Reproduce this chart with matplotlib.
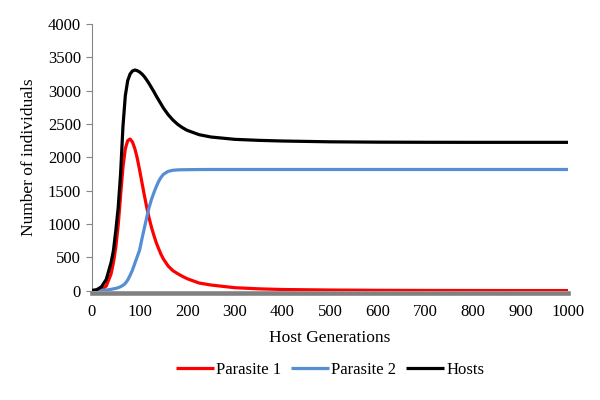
import matplotlib
matplotlib.use("Agg")
import matplotlib.pyplot as plt

# values
generations = [0, 10, 20, 30, 40, 45, 50, 55, 60, 65, 70, 75, 80, 85, 90, 95,
               100, 105, 110, 115, 120, 125, 130, 135, 140, 145, 150, 160,
               170, 180, 190, 200, 225, 250, 300, 350, 400, 500, 600, 700,
               800, 900, 1000]
parasite1 = [0, 3, 20, 70, 250, 420, 650, 980, 1420, 1850, 2130, 2250, 2275,
             2230, 2130, 1990, 1810, 1620, 1430, 1250, 1090, 950, 830, 720,
             630, 545, 475, 370, 300, 255, 215, 180, 115, 85, 45, 28, 18, 10,
             6, 4, 3, 2, 2]
parasite2 = [0, 2, 5, 10, 20, 28, 35, 45, 60, 80, 110, 160, 230, 310, 410,
             510, 610, 780, 940, 1100, 1250, 1370, 1470, 1560, 1640, 1700,
             1745, 1790, 1806, 1812, 1814, 1815, 1817, 1818, 1818, 1818, 1818,
             1818, 1818, 1818, 1818, 1818, 1818]
hosts = [5, 15, 60, 170, 420, 600, 900, 1245, 1745, 2460, 2925, 3150, 3250,
         3295, 3310, 3300, 3280, 3250, 3210, 3160, 3105, 3045, 2985, 2920,
         2860, 2800, 2740, 2640, 2560, 2495, 2445, 2405, 2340, 2305, 2270,
         2255, 2245, 2233, 2228, 2226, 2225, 2225, 2225]

plt.rcParams["font.family"] = ["Liberation Serif", "DejaVu Serif"]

fig = plt.figure(figsize=(6, 4), dpi=100)
ax = fig.add_axes([92 / 600, 1 - 290.7 / 400, 476 / 600, 266.7 / 400])

lw = 2.3
ax.plot(generations, parasite1, color="#ff0000", lw=lw, label="Parasite 1",
        zorder=3, solid_capstyle="butt")
ax.plot(generations, parasite2, color="#558ed5", lw=lw, label="Parasite 2",
        zorder=3, solid_capstyle="butt")
ax.plot(generations, hosts, color="#000000", lw=lw, label="Hosts",
        zorder=4, solid_capstyle="butt")

ax.set_xlim(0, 1000)
ax.set_ylim(0, 4000)
ax.set_xticks(range(0, 1001, 100))
ax.set_yticks(range(0, 4001, 500))

for side in ["top", "right"]:
    ax.spines[side].set_visible(False)
ax.spines["left"].set_color("#868686")
ax.spines["left"].set_linewidth(0.8)
ax.spines["bottom"].set_color("#808080")
ax.spines["bottom"].set_linewidth(3.3)
ax.spines["bottom"].set_position(("outward", 1.6))
ax.spines["bottom"].set_zorder(2)

ax.tick_params(axis="y", direction="out", length=4, width=0.8,
               color="#868686", labelsize=12, pad=4)
ax.tick_params(axis="x", length=0, labelsize=12, pad=8)

ax.set_xlabel("Host Generations", fontsize=12.5, labelpad=7)
ax.set_ylabel("Number of individuals", fontsize=12.5, labelpad=8)

ax.legend(loc="upper center", bbox_to_anchor=(0.5, -0.21), ncol=3,
          frameon=False, fontsize=12, handlelength=2.3, handletextpad=0.1,
          columnspacing=0.6)

fig.savefig("out.png", dpi=100, facecolor="white")
